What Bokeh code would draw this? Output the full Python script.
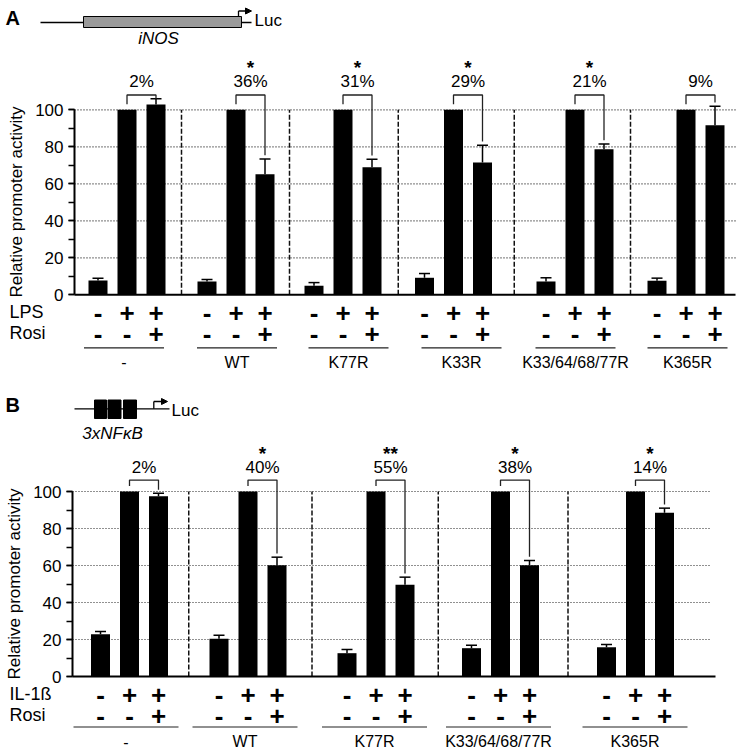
from bokeh.plotting import figure
from bokeh.models import Range1d, LinearAxis, SingleIntervalTicker, Arrow, NormalHead
from bokeh.core.properties import value
from bokeh.embed import file_html
from bokeh.resources import INLINE

# ---------------- data ----------------
# Panel A: iNOS promoter, LPS stimulation
a_groups = ["-", "WT", "K77R", "K33R", "K33/64/68/77R", "K365R"]
a_ctrl = [7.7, 7.2, 4.9, 9.2, 7.2, 7.6]
a_ctrl_err = [1.3, 1.1, 1.7, 2.3, 2.0, 1.4]
a_stim = [100, 100, 100, 100, 100, 100]
a_rosi = [102.9, 65.1, 69.0, 71.5, 78.7, 91.6]
a_rosi_err = [3.1, 8.3, 4.3, 9.3, 2.8, 10.3]
a_pct = ["2%", "36%", "31%", "29%", "21%", "9%"]
a_sig = ["", "*", "*", "*", "*", ""]

# Panel B: 3xNFkB promoter, IL-1ß stimulation
b_groups = ["-", "WT", "K77R", "K33/64/68/77R", "K365R"]
b_ctrl = [22.9, 20.4, 12.6, 15.3, 15.8]
b_ctrl_err = [1.4, 1.9, 2.0, 1.6, 1.5]
b_stim = [100, 100, 100, 100, 100]
b_rosi = [97.4, 60.2, 49.6, 60.2, 88.5]
b_rosi_err = [1.6, 4.3, 4.1, 2.5, 2.5]
b_pct = ["2%", "40%", "55%", "38%", "14%"]
b_sig = ["", "*", "**", "*", "*"]

stim_signs = ["-", "+", "+"]
rosi_signs = ["-", "-", "+"]
y_label = "Relative promoter activity"

# ---------------- layout ----------------
W, H = 740, 751
X0, Y0 = 0, 0
PX = 1.85            # pixels per percent unit
STEP = 29            # bar spacing inside a group
BAR_W = 19
FONT = "Liberation Sans"
a_centers = [126.5, 235.5, 342.5, 453, 574.5, 685.5]
b_centers = [129, 247.5, 375.5, 500, 635]
a_label_centers = [123.5, 236.5, 348, 461, 575, 687]
b_label_centers = [125.5, 244.5, 374, 498, 634.5]


def rng_for(zero_page):
    return Range1d((zero_page - (Y0 + H)) / PX, (zero_page - Y0) / PX)


p = figure(width=W, height=H, output_backend="svg", toolbar_location=None,
           x_axis_type=None, y_axis_type=None,
           x_range=Range1d(X0, X0 + W), y_range=rng_for(294.3), min_border=0)
p.outline_line_color = None
p.background_fill_color = "white"
p.extra_y_ranges = {"B": rng_for(676.0), "px": Range1d(Y0 + H, Y0)}


def txt(x, y, t, size="17px", align="center", style="normal", font=FONT, baseline="middle"):
    xs = x if isinstance(x, list) else [x]
    ys = y if isinstance(y, list) else [y]
    ts = t if isinstance(t, list) else [t]
    p.text(x=xs, y=ys, text=ts, y_range_name="px", text_font=value(font),
           text_font_size=value(size), text_align=align, text_baseline=baseline,
           text_font_style=style, text_color="black")


def draw_panel(rname, centers, label_centers, ctrl, ctrl_err, stim, rosi, rosi_err, pct, sig,
               groups, axis_x, grid_end, base_end, stim_label, rows, underline_w,
               bracket_top, pct_y, star_y):
    xs, tops, errs = [], [], []
    for i, c in enumerate(centers):
        xs += [c - STEP, c, c + STEP]
        tops += [ctrl[i], stim[i], rosi[i]]
        errs += [ctrl_err[i], 0, rosi_err[i]]

    # dotted gridlines
    ticks = [20, 40, 60, 80, 100]
    p.segment(x0=[axis_x] * len(ticks), x1=[grid_end] * len(ticks), y0=ticks, y1=ticks,
              y_range_name=rname, line_color="#222222", line_dash="1 2", line_width=1.2)
    # dashed separators
    seps = [(centers[i] + STEP + centers[i + 1] - STEP) / 2 for i in range(len(centers) - 1)]
    p.segment(x0=seps, x1=seps, y0=[0] * len(seps), y1=[100] * len(seps),
              y_range_name=rname, line_color="#111111", line_dash="5 2", line_width=1.5)
    # bars
    p.vbar(x=xs, top=tops, bottom=0, width=BAR_W, y_range_name=rname,
           fill_color="black", line_color=None)
    # error bars
    ex = [x for x, e in zip(xs, errs) if e > 0]
    et = [t for t, e in zip(tops, errs) if e > 0]
    ee = [t + e for t, e in zip(tops, errs) if e > 0]
    p.segment(x0=ex, x1=ex, y0=et, y1=ee, y_range_name=rname, line_color="black", line_width=1.5)
    p.segment(x0=[x - 5.5 for x in ex], x1=[x + 5.5 for x in ex], y0=ee, y1=ee,
              y_range_name=rname, line_color="black", line_width=1.5)
    # baseline
    p.segment(x0=[axis_x], x1=[base_end], y0=[0], y1=[0], y_range_name=rname,
              line_color="black", line_width=2)
    # y axis
    ax = LinearAxis(y_range_name=rname, fixed_location=axis_x, bounds=(0, 100),
                    ticker=SingleIntervalTicker(interval=20, num_minor_ticks=2),
                    axis_label=y_label)
    ax.axis_line_width = 2
    ax.major_tick_line_width = 1.5
    ax.minor_tick_line_width = 1.5
    ax.major_tick_out = 6
    ax.major_tick_in = 0
    ax.minor_tick_out = 6
    ax.minor_tick_in = 0
    ax.major_label_standoff = 5
    ax.major_label_text_font = FONT
    ax.major_label_text_font_size = "17px"
    ax.major_label_text_color = "black"
    ax.axis_label_text_font = FONT
    ax.axis_label_text_font_size = "17px"
    ax.axis_label_text_font_style = "normal"
    ax.axis_label_text_color = "black"
    ax.axis_label_standoff = 6
    p.add_layout(ax, "left")

    # brackets
    bx, by = [], []
    for i, c in enumerate(centers):
        top_v = bracket_top
        right_end = min(rosi[i] + rosi_err[i] + 2.0, top_v - 2.0)
        bx.append([c, c, c + STEP, c + STEP])
        by.append([stim[i] + 3.0, top_v, top_v, right_end])
        txt(c + STEP / 2, pct_y, pct[i], size="17px")
        if sig[i]:
            txt(c + STEP / 2, star_y, sig[i], size="19px", style="bold")
    p.multi_line(xs=bx, ys=by, y_range_name=rname, line_color="#222222", line_width=1.3)

    # condition rows
    r_stim, r_rosi, r_line, r_name = rows
    txt(9, r_stim, stim_label, size="18px", align="left")
    txt(9, r_rosi, "Rosi", size="18px", align="left")
    for i, c in enumerate(centers):
        for j in range(3):
            txt(c + (j - 1) * STEP, r_stim + 1, stim_signs[j], size="26px", style="bold")
            txt(c + (j - 1) * STEP, r_rosi + 1, rosi_signs[j], size="26px", style="bold")
    p.segment(x0=[c - underline_w / 2 for c in label_centers],
              x1=[c + underline_w / 2 for c in label_centers],
              y0=[r_line] * len(label_centers), y1=[r_line] * len(label_centers),
              y_range_name="px", line_color="#222222", line_width=1.2)
    txt(list(label_centers), [r_name] * len(label_centers), groups, size="16px")


draw_panel("default", a_centers, a_label_centers, a_ctrl, a_ctrl_err, a_stim, a_rosi,
           a_rosi_err, a_pct, a_sig, a_groups, 74, 735, 735, "LPS",
           (311.7, 332.3, 347.3, 361.7), 80, 108.0, 81, 67)
draw_panel("B", b_centers, b_label_centers, b_ctrl, b_ctrl_err, b_stim, b_rosi,
           b_rosi_err, b_pct, b_sig, b_groups, 72, 709, 715, "IL-1ß",
           (693.5, 714.5, 726.5, 741), 105, 106.2, 467, 453)

# ---------------- promoter schematics ----------------
# A
txt(5, 17, "A", size="20px", style="bold", align="left")
p.segment(x0=[40, 241], x1=[83, 251], y0=[22, 22], y1=[22, 22], y_range_name="px",
          line_color="black", line_width=1.3)
p.quad(left=[83], right=[241], top=[16], bottom=[27], y_range_name="px",
       fill_color="#9a9a9a", line_color="black", line_width=1)
p.segment(x0=[238], x1=[238], y0=[16], y1=[10.5], y_range_name="px",
          line_color="black", line_width=1.3)
p.add_layout(Arrow(end=NormalHead(size=6, fill_color="black", line_color="black"),
                   x_start=238, y_start=10.5, x_end=251, y_end=10.5, y_range_name="px",
                   line_color="black", line_width=1.3))
txt(254, 20, "Luc", size="17px", align="left")
txt(158, 38, "iNOS", size="17px", style="italic")

# B
txt(5, 404, "B", size="20px", style="bold", align="left")
p.segment(x0=[74], x1=[169], y0=[408.3], y1=[408.3], y_range_name="px",
          line_color="black", line_width=1.3)
p.quad(left=[94, 107.5, 123], right=[106, 120.5, 136], top=[399.5] * 3, bottom=[418] * 3,
       y_range_name="px", fill_color="black", line_color="black")
p.segment(x0=[153.3], x1=[153.3], y0=[408.3], y1=[401], y_range_name="px",
          line_color="black", line_width=1.3)
p.add_layout(Arrow(end=NormalHead(size=6, fill_color="black", line_color="black"),
                   x_start=153.3, y_start=401, x_end=167, y_end=401, y_range_name="px",
                   line_color="black", line_width=1.3))
txt(171, 410, "Luc", size="17px", align="left")
txt(112, 433, "3xNFκB", size="17px", style="italic")

open("out.html", "w").write(file_html(p, INLINE))
